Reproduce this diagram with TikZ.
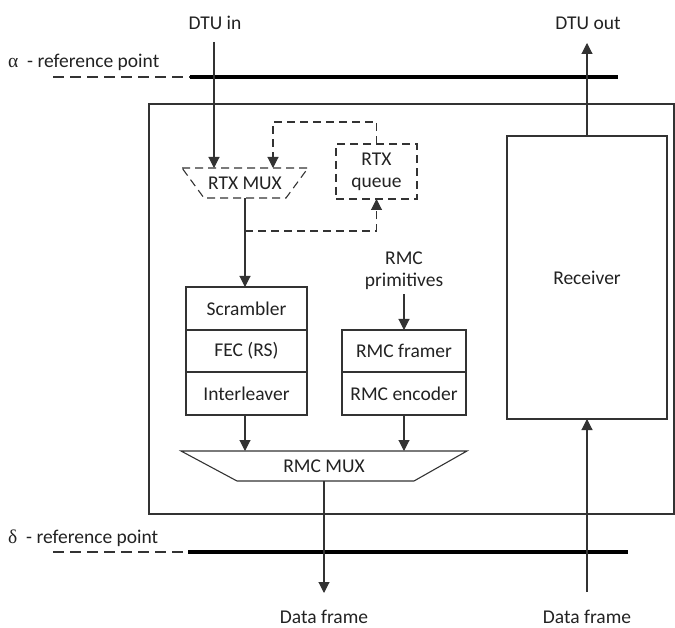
\documentclass[tikz,border=0pt]{standalone}
\usepackage{fontspec}
\setmainfont{Carlito}
\newfontfamily\greekfont{Liberation Serif}
\usetikzlibrary{arrows.meta,calc}
\definecolor{ln}{HTML}{333333}
\definecolor{txt}{HTML}{222222}
\begin{document}
\begin{tikzpicture}[x=1pt,y=-1pt,
  font=\fontsize{19.5}{22}\selectfont,
  every node/.style={text=txt},
  thin line/.style={draw=ln,line width=1.1pt},
  arr/.style={thin line,-{Triangle[width=11pt,length=11pt]}},
  refline/.style={draw=black,line width=4pt},
  refdash/.style={draw=ln,line width=1.1pt,dash pattern=on 11pt off 6pt},
  fbdash/.style={dash pattern=on 8pt off 5pt},
  blockbox/.style={draw=ln,line width=1.1pt,inner sep=0pt,outer sep=0pt,minimum height=#1},
  muxbox/.style={inner sep=0pt,outer sep=0pt,minimum height=30pt},
  label/.style={inner sep=0pt}]
\useasboundingbox (0,0) rectangle (675,628);

% outer transceiver frame
\node[thin line,inner sep=0pt,outer sep=0pt,minimum width=525pt,minimum height=410pt] (frame) at (411.5,309) {};

% reference points
\node[label,anchor=west] (alpha) at (8,62) {{\greekfont α}\ \ - reference point};
\coordinate (aL) at (53,77);
\coordinate (aM) at (190,77);
\coordinate (aR) at (618,77);
\draw[refdash] (aL) -- (aM);
\draw[refline] (aM) -- (aR);

\node[label,anchor=west] (delta) at (8,538) {{\greekfont δ}\ \ - reference point};
\coordinate (dL) at (53,552);
\coordinate (dM) at (188,552);
\coordinate (dR) at (628,552);
\draw[refdash] (dL) -- (dM);
\draw[refline] (dM) -- (dR);

% external labels
\node[label] (dtuin) at (215,23) {DTU in};
\node[label] (dtuout) at (588,23) {DTU out};
\node[label] (dfoutlbl) at (324,617) {Data frame};
\node[label] (dfinlbl) at (587,617) {Data frame};

% RTX multiplexer (trapezoid drawn on a named box)
\node[muxbox,minimum width=126pt] (rtxmux) at (245,183) {RTX MUX};
\draw[thin line,fbdash] (rtxmux.north west) -- (rtxmux.north east)
  -- ([xshift=-22pt]rtxmux.south east) -- ([xshift=22pt]rtxmux.south west) -- cycle;

% retransmission queue
\node[blockbox=55pt,minimum width=81pt,fbdash,align=center] (rtxq) at (376.5,171.5) {RTX\\queue};

% transmit chain
\node[blockbox=43pt,minimum width=121pt] (scr) at (246.5,308.5) {Scrambler};
\node[blockbox=42pt,minimum width=121pt,anchor=north] (fec) at (scr.south) {FEC (RS)};
\node[blockbox=43pt,minimum width=121pt,anchor=north] (il) at (fec.south) {Interleaver};

% RMC chain
\node[label,align=center] (prim) at (404,271) {RMC\\primitives};
\node[blockbox=42pt,minimum width=124pt] (framer) at (404,351) {RMC framer};
\node[blockbox=43pt,minimum width=124pt,anchor=north] (enc) at (framer.south) {RMC encoder};

% RMC multiplexer
\node[muxbox,minimum width=286pt] (rmcmux) at (324,466) {RMC MUX};
\draw[thin line] (rmcmux.north west) -- (rmcmux.north east)
  -- ([xshift=-53pt]rmcmux.south east) -- ([xshift=56pt]rmcmux.south west) -- cycle;

% receiver
\node[blockbox=283pt,minimum width=160pt] (rec) at (587,277.5) {Receiver};

% connector end points
\coordinate (inTop) at (214,42);
\coordinate (outTip) at (587,43);
\coordinate (tap) at (245,231);
\coordinate (txTip) at (324,593);
\coordinate (rxStart) at (587,592);

% connectors
\draw[arr] (inTop) -- (inTop |- rtxmux.north);
\draw[arr,fbdash] (rtxq.north) -- ++(0,-22) -| ([xshift=28pt]rtxmux.north);
\draw[thin line] (rtxmux.south) -- (tap);
\draw[arr] (tap) -- (tap |- scr.north);
\draw[arr,fbdash] (tap) -| (rtxq.south);
\draw[arr] (prim.south) ++(0,4) -- (framer.north);
\draw[arr] (il.south -| tap) -- (tap |- rmcmux.north);
\draw[arr] (enc.south) -- (enc.south |- rmcmux.north);
\draw[arr] (rmcmux.south) -- (txTip);
\draw[arr] (rxStart) -- (rec.south);
\draw[arr] (rec.north) -- (outTip);
\end{tikzpicture}
\end{document}
